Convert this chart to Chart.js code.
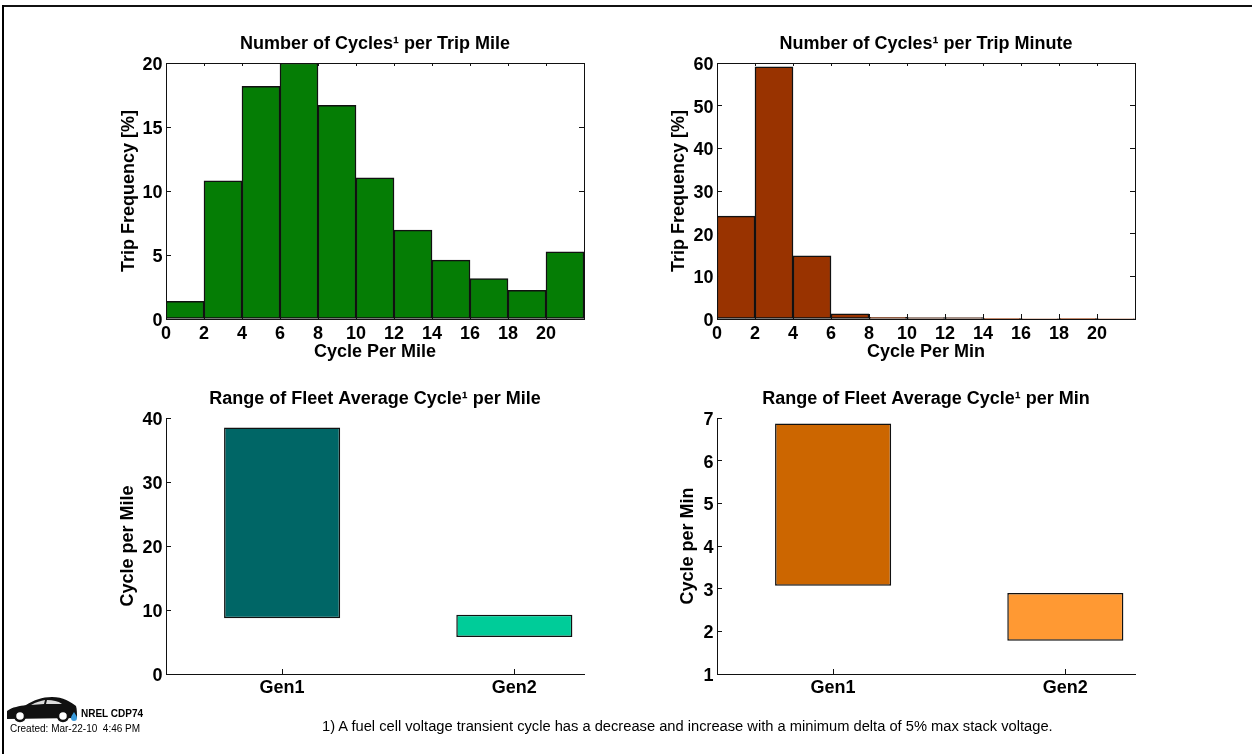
<!DOCTYPE html>
<html><head><meta charset="utf-8">
<style>
html,body{margin:0;padding:0;background:#fff;width:1252px;height:754px;overflow:hidden;position:relative;font-family:"Liberation Sans",Arial,sans-serif}
canvas{position:absolute}
#frameT{position:absolute;left:2px;top:5px;right:0;height:2px;background:#111}
#frameL{position:absolute;left:2px;top:5px;bottom:0;width:2px;background:#000}
.t{position:absolute;color:#000;white-space:nowrap}
</style>
<script src="https://cdn.jsdelivr.net/npm/chart.js@4/dist/chart.umd.min.js"></script>
</head><body>
<div id="frameT"></div><div id="frameL"></div>
<canvas id="c1"></canvas><canvas id="c2"></canvas><canvas id="c3"></canvas><canvas id="c4"></canvas>
<svg style="position:absolute;left:6px;top:696px" width="74" height="28" viewBox="0 0 74 28">
<path d="M1 15 C6 11 14 10 20 9 C28 4 36 1 46 1 C57 1 65 6 70 10 C71 13 71 18 71 22 L1 23 Z" fill="#111"/>
<path d="M25 9 C30 6 35 5 39 4 L38 8 Z M41 4 C47 4 52 5 56 8 L40 8 Z" fill="#ddd"/>
<circle cx="14" cy="20" r="5" fill="#fff" stroke="#111" stroke-width="2.500"/>
<circle cx="57" cy="20" r="5" fill="#fff" stroke="#111" stroke-width="2.500"/>
<path d="M68 16 C69 18 71 20 71 22 A3 3 0 0 1 65 22 C65 20 67 18 68 16 Z" fill="#3a9bdc"/>
</svg>
<div class="t" style="left:81px;top:708px;font:bold 10px 'Liberation Sans'">NREL CDP74</div>
<div class="t" style="left:10px;top:723px;font:10px 'Liberation Sans'">Created: Mar-22-10&nbsp; 4:46 PM</div>
<div class="t" style="left:322px;top:718px;font:14.700px 'Liberation Sans'">1) A fuel cell voltage transient cycle has a decrease and increase with a minimum delta of 5% max stack voltage.</div>
<script>
const binCenters=[1,3,5,7,9,11,13,15,17,19,21];
const milesFreq=[1.38,10.8,18.17,20,16.7,11.03,6.94,4.6,3.15,2.24,5.24];
const minsFreq=[24.1,59.1,14.8,1.2,0.4,0.35,0.35,0.15,0.12,0.08,0.12];
const categories=['Gen1','Gen2'];
const rangeMile=[[8.7,38.5],[5.8,9.25]];
const rangeMin=[[3.07,6.87],[1.78,2.9]];
const FONT='"Liberation Sans",Arial,sans-serif';
const INK='#111';
const W=418,H=256,LEFT=70,RPAD=2;
const titleFont={family:FONT,size:18,weight:'bold'};
const tickFont={family:FONT,size:18,weight:'bold'};
function place(id,l,t){const c=document.getElementById(id);c.style.left=l+'px';c.style.top=t+'px';}
const fixW=w=>s=>{s.width=w;s.paddingTop=0;s.paddingBottom=0};
const fixH=h=>s=>{s.height=h;s.paddingLeft=0;s.paddingRight=0};
function base(title,top,bottom){return {responsive:false,animation:false,devicePixelRatio:1,
 layout:{padding:{right:RPAD}},
 plugins:{legend:{display:false},tooltip:{enabled:false},
  title:{display:true,fullSize:false,text:title,color:'#000',font:titleFont,padding:{top,bottom}}}};}
function hist(id,l,title,xt,data,color,ymax,ystep,ytPad){
 place(id,l-LEFT,20);
 const cv=document.getElementById(id);cv.width=LEFT+W+RPAD;cv.height=43+H+50;
 const o=base(title,13,8.4);
 const ln={color:INK,width:1,z:1};
 o.scales={
  x:{type:'linear',offset:false,min:0,max:22,position:'bottom',afterFit:fixH(50),border:ln,
     grid:{offset:false,drawOnChartArea:false,color:INK,tickLength:-5},
     title:{display:true,text:xt,color:'#000',font:titleFont,padding:{top:0,bottom:6.2}},
     ticks:{stepSize:2,color:'#000',maxRotation:0,autoSkip:false,padding:9,font:tickFont,callback:v=>v<22?v:''}},
  y:{min:0,max:ymax,position:'left',afterFit:fixW(LEFT),border:ln,
     grid:{drawOnChartArea:false,color:INK,tickLength:-5},
     title:{display:true,text:'Trip Frequency [%]',color:'#000',font:titleFont,padding:{top:ytPad,bottom:0}},
     ticks:{stepSize:ystep,color:'#000',padding:8.5,labelOffset:2,font:tickFont}},
  xTop:{type:'linear',offset:false,min:0,max:22,position:'top',afterFit:fixH(0),border:ln,
     grid:{offset:false,drawOnChartArea:false,color:INK,tickLength:-3},ticks:{display:false,stepSize:2}},
  yRight:{min:0,max:ymax,position:'right',afterFit:fixW(0),border:ln,
     grid:{drawOnChartArea:false,color:INK,tickLength:-5},ticks:{display:false,stepSize:ystep}}
 };
 return new Chart(cv,{type:'bar',data:{datasets:[{data:binCenters.map((x,i)=>({x,y:data[i]})),backgroundColor:color,borderColor:INK,borderWidth:1.5,borderSkipped:false,barPercentage:1,categoryPercentage:1,xAxisID:'x',yAxisID:'y'}]},options:o});
}
function range(id,l,title,yt,vals,colors,ymin,ymax,xmax,ytPad){
 place(id,l-LEFT,380);
 const cv=document.getElementById(id);cv.width=LEFT+W+RPAD;cv.height=38+H+46;
 const o=base(title,8,8.4);
 const ln={color:INK,width:1,z:1};
 o.scales={
  x:{type:'linear',offset:false,min:0.5,max:xmax,position:'bottom',afterFit:fixH(46),border:ln,
     afterBuildTicks:s=>{s.ticks=categories.map((c,i)=>({value:i+1}))},
     grid:{offset:false,drawOnChartArea:false,color:INK,tickLength:-5},
     ticks:{color:'#000',maxRotation:0,autoSkip:false,padding:8,font:tickFont,callback:v=>categories[v-1]}},
  y:{min:ymin,max:ymax,position:'left',afterFit:fixW(LEFT),border:ln,
     grid:{drawOnChartArea:false,color:INK,tickLength:-5},
     title:{display:true,text:yt,color:'#000',font:titleFont,padding:{top:ytPad,bottom:0}},
     ticks:{stepSize:ymax>10?10:1,color:'#000',padding:8.5,labelOffset:2,font:tickFont}}
 };
 return new Chart(cv,{type:'bar',data:{datasets:[{data:categories.map((c,i)=>({x:i+1,y:vals[i]})),backgroundColor:colors,borderColor:INK,borderWidth:1.5,barPercentage:0.5,categoryPercentage:1,borderSkipped:false}]},options:o});
}
hist('c1',166,'Number of Cycles¹ per Trip Mile','Cycle Per Mile',milesFreq,'#057d05',20,5,22);
hist('c2',717,'Number of Cycles¹ per Trip Minute','Cycle Per Min',minsFreq,'#993300',60,10,21);
range('c3',166,'Range of Fleet Average Cycle¹ per Mile','Cycle per Mile',rangeMile,['#006666','#00cc99'],0,40,2.3,21);
range('c4',717,'Range of Fleet Average Cycle¹ per Min','Cycle per Min',rangeMin,['#cc6600','#ff9933'],1,7,2.3,30);
</script>
</body></html>
